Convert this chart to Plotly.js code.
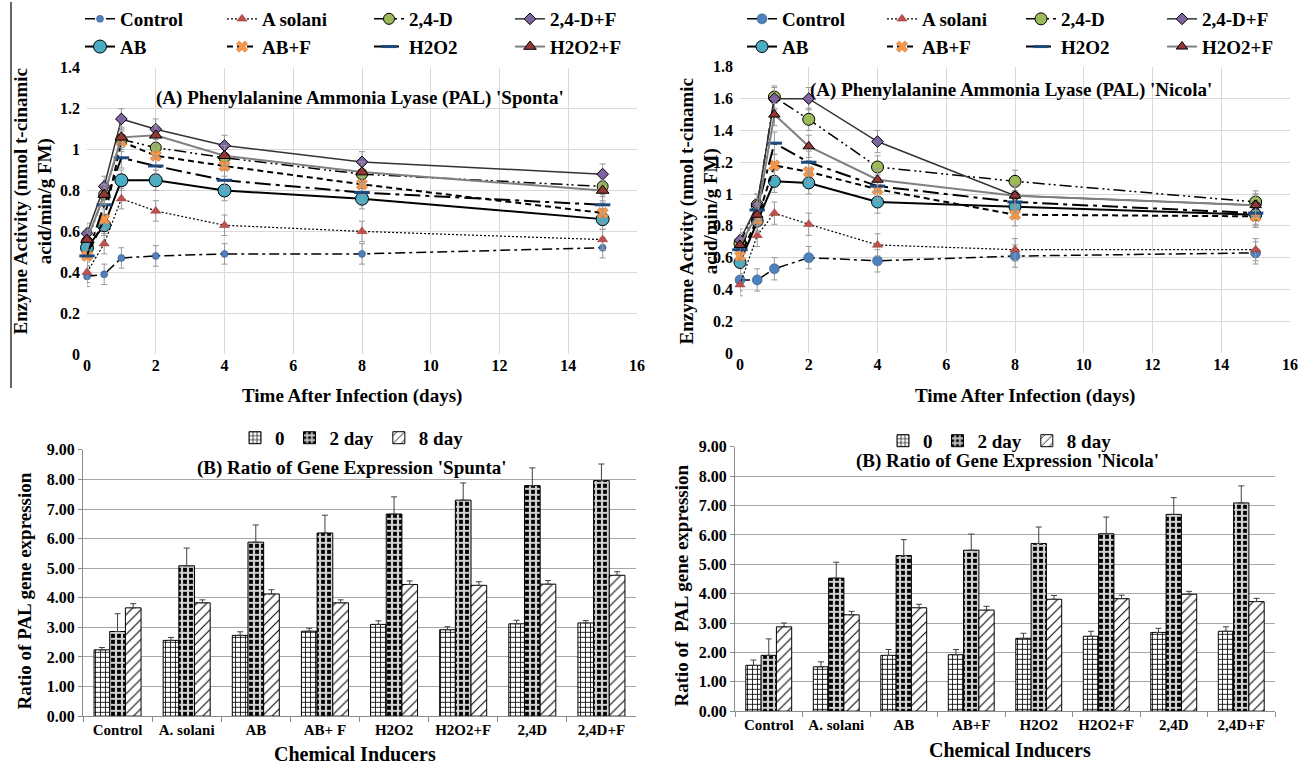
<!DOCTYPE html>
<html><head><meta charset="utf-8">
<script src="https://cdn.plot.ly/plotly-3.0.1.min.js"></script>
<style>html,body{margin:0;padding:0;background:#fff}#chart{width:1299px;height:765px}</style>
</head><body><div id="chart"></div>
<script>
// ---------- DATA ----------
const days = [0, 0.5, 1, 2, 4, 8, 15];
const seriesNames = ["Control", "A solani", "2,4-D", "2,4-D+F", "AB", "AB+F", "H2O2", "H2O2+F"];

// PAL activity, 'Sponta'
const spontaControl = [0.38, 0.39, 0.47, 0.48, 0.49, 0.49, 0.52];
const spontaAsolani = [0.40, 0.54, 0.76, 0.70, 0.63, 0.60, 0.56];
const sponta24D     = [0.55, 0.78, 1.05, 1.01, 0.96, 0.88, 0.82];
const sponta24DF    = [0.59, 0.82, 1.15, 1.10, 1.02, 0.94, 0.88];
const spontaAB      = [0.52, 0.63, 0.85, 0.85, 0.80, 0.76, 0.66];
const spontaABF     = [0.48, 0.66, 1.04, 0.97, 0.92, 0.83, 0.69];
const spontaH2O2    = [0.48, 0.73, 0.96, 0.92, 0.85, 0.79, 0.73];
const spontaH2O2F   = [0.56, 0.78, 1.06, 1.07, 0.97, 0.89, 0.80];
const spontaErr = 0.05;

// PAL activity, 'Nicola'
const nicolaControl = [0.46, 0.46, 0.53, 0.60, 0.58, 0.61, 0.63];
const nicolaAsolani = [0.43, 0.74, 0.88, 0.81, 0.68, 0.65, 0.65];
const nicola24D     = [0.69, 0.93, 1.61, 1.47, 1.17, 1.08, 0.95];
const nicola24DF    = [0.71, 0.93, 1.60, 1.60, 1.33, 0.99, 0.93];
const nicolaAB      = [0.57, 0.83, 1.08, 1.07, 0.95, 0.92, 0.87];
const nicolaABF     = [0.61, 0.84, 1.18, 1.14, 1.03, 0.87, 0.86];
const nicolaH2O2    = [0.65, 0.90, 1.32, 1.20, 1.05, 0.95, 0.88];
const nicolaH2O2F   = [0.68, 0.87, 1.50, 1.30, 1.09, 0.99, 0.93];
const nicolaErr = 0.07;

// Gene expression ratio
const barGroups = ["0", "2 day", "8 day"];
const spuntaCats = ["Control", "A. solani", "AB", "AB+ F", "H2O2", "H2O2+F", "2,4D", "2,4D+F"];
const spunta0   = [2.24, 2.56, 2.73, 2.87, 3.10, 2.92, 3.12, 3.15];
const spunta2   = [2.86, 5.08, 5.88, 6.19, 6.83, 7.30, 7.79, 7.96];
const spunta8   = [3.66, 3.83, 4.13, 3.83, 4.45, 4.42, 4.46, 4.76];
const spunta0Err = [0.08, 0.10, 0.12, 0.10, 0.12, 0.10, 0.12, 0.08];
const spunta2Err = [0.60, 0.60, 0.58, 0.60, 0.58, 0.58, 0.60, 0.56];
const spunta8Err = [0.14, 0.10, 0.14, 0.10, 0.12, 0.12, 0.12, 0.12];

const nicolaCats = ["Control", "A. solani", "AB", "AB+F", "H2O2", "H2O2+F", "2,4D", "2,4D+F"];
const nicolaB0   = [1.56, 1.51, 1.90, 1.92, 2.48, 2.55, 2.68, 2.72];
const nicolaB2   = [1.90, 4.53, 5.30, 5.48, 5.71, 6.04, 6.70, 7.09];
const nicolaB8   = [2.87, 3.28, 3.52, 3.44, 3.81, 3.83, 3.98, 3.73];
const nicolaB0Err = [0.18, 0.17, 0.20, 0.18, 0.17, 0.17, 0.14, 0.15];
const nicolaB2Err = [0.56, 0.54, 0.54, 0.55, 0.56, 0.57, 0.57, 0.58];
const nicolaB8Err = [0.13, 0.12, 0.12, 0.13, 0.13, 0.12, 0.10, 0.11];

// ---------- STYLES ----------
const W = 1299, H = 765;
const px = v => v / W;
const py = v => 1 - v / H;
const FONT = "Liberation Serif";

const styles = {
  "Control":  {line:{color:'#000', width:1.5, dash:'10px,4px,3px,4px'}, marker:{symbol:'circle', color:'#4f81bd', line:{color:'#2c4d75', width:0.5}}, sizeS:7, sizeN:10},
  "A solani": {line:{color:'#000', width:1.2, dash:'2px,2px'}, marker:{symbol:'triangle-up', color:'#c0504d', line:{color:'#8c3836', width:0.5}}, sizeS:9, sizeN:9},
  "2,4-D":    {line:{color:'#000', width:1.5, dash:'12px,4px,2px,3px,2px,4px'}, marker:{symbol:'circle', color:'#9bbb59', line:{color:'#000', width:1}}, sizeS:11, sizeN:12},
  "2,4-D+F":  {line:{color:'#333', width:1.5}, marker:{symbol:'diamond', color:'#8064a2', line:{color:'#000', width:1}}, sizeS:9, sizeN:9},
  "AB":       {line:{color:'#000', width:2}, marker:{symbol:'circle', color:'#4bacc6', line:{color:'#000', width:1}}, sizeS:13, sizeN:12},
  "AB+F":     {line:{color:'#000', width:2, dash:'6px,4px'}, marker:{symbol:'x', color:'#f79646', line:{color:'#b66d31', width:0.5}}, sizeS:10, sizeN:10},
  "H2O2":     {line:{color:'#000', width:2, dash:'16px,5px,4px,5px'}, marker:{symbol:'line-ew', color:'#1f497d', line:{color:'#1f497d', width:3}}, sizeS:11, sizeN:11},
  "H2O2+F":   {line:{color:'#808080', width:2}, marker:{symbol:'triangle-up', color:'#953735', line:{color:'#000', width:1}}, sizeS:11, sizeN:10}
};
// legend column for each series (row-major 2x4)
const legendCol = {"Control":0, "AB":0, "A solani":1, "AB+F":1, "2,4-D":2, "H2O2":2, "2,4-D+F":3, "H2O2+F":3};

const spontaSeries = {"Control":spontaControl, "A solani":spontaAsolani, "2,4-D":sponta24D, "2,4-D+F":sponta24DF,
  "AB":spontaAB, "AB+F":spontaABF, "H2O2":spontaH2O2, "H2O2+F":spontaH2O2F};
const nicolaSeries = {"Control":nicolaControl, "A solani":nicolaAsolani, "2,4-D":nicola24D, "2,4-D+F":nicola24DF,
  "AB":nicolaAB, "AB+F":nicolaABF, "H2O2":nicolaH2O2, "H2O2+F":nicolaH2O2F};

const traces = [];
function addLines(seriesMap, err, xa, ya, legendBase, sizeKey) {
  seriesNames.forEach(name => {
    const st = styles[name];
    const col = legendCol[name];
    const lg = (legendBase + col) === 1 ? 'legend' : 'legend' + (legendBase + col);
    traces.push({
      type:'scatter', mode:'lines+markers', name:name, x:days, y:seriesMap[name],
      xaxis:xa, yaxis:ya, legend:lg,
      line:st.line,
      marker:Object.assign({}, st.marker, {size:st[sizeKey]}),
      error_y:{type:'constant', value:err, color:'#9a9a9a', thickness:1, width:3},
      cliponaxis:false
    });
  });
}
addLines(spontaSeries, spontaErr, 'x', 'y', 1, 'sizeS');
addLines(nicolaSeries, nicolaErr, 'x2', 'y2', 5, 'sizeN');

const patterns = [
  {shape:'+', fgcolor:'#000', bgcolor:'#fff', size:5, solidity:0.3},
  {shape:'+', fgcolor:'#d0d0d0', bgcolor:'#000', size:6, solidity:0.6},
  {shape:'/', fgcolor:'#000', bgcolor:'#fff', size:7, solidity:0.15}
];
function addBars(cats, vals, errs, xa, ya, lg) {
  vals.forEach((v, i) => {
    traces.push({
      type:'bar', name:barGroups[i], x:cats, y:v, xaxis:xa, yaxis:ya, legend:lg,
      marker:{color:'#fff', line:{color:'#000', width:1}, pattern:patterns[i]},
      error_y:{type:'data', array:errs[i], arrayminus:errs[i].map(() => 0), symmetric:false, color:'#404040', thickness:1, width:3}
    });
  });
}
addBars(spuntaCats, [spunta0, spunta2, spunta8], [spunta0Err, spunta2Err, spunta8Err], 'x3', 'y3', 'legend9');
addBars(nicolaCats, [nicolaB0, nicolaB2, nicolaB8], [nicolaB0Err, nicolaB2Err, nicolaB8Err], 'x4', 'y4', 'legend10');

// ---------- LAYOUT ----------
const tickF = {family:FONT, size:16, color:'#000', weight:'bold'};
function lineX(dom, anchor) {
  return {domain:dom, anchor:anchor, range:[0,16], dtick:2, tick0:0, showgrid:true, gridcolor:'#d9d9d9',
    zeroline:false, showline:false, ticks:'', tickfont:tickF, fixedrange:true};
}
function lineY(dom, anchor, max) {
  return {domain:dom, anchor:anchor, range:[0,max], dtick:0.2, tick0:0, showgrid:true, gridcolor:'#d9d9d9',
    zeroline:false, showline:false, ticks:'', tickfont:tickF, ticklabelstandoff:6};
}
function barX(dom, anchor) {
  return {domain:dom, anchor:anchor, type:'category', showline:true, linecolor:'#8c8c8c', ticks:'outside',
    tickson:'boundaries', ticklen:5, tickcolor:'#8c8c8c', showgrid:false, tickfont:{family:FONT, size:15, color:'#000', weight:'bold'}};
}
function barY(dom, anchor) {
  return {domain:dom, anchor:anchor, range:[0,9], dtick:1, tick0:0, tickformat:'.2f', showline:true, linecolor:'#8c8c8c',
    ticks:'outside', ticklen:4, tickcolor:'#8c8c8c', showgrid:true, gridcolor:'#a6a6a6', zeroline:false,
    tickfont:{family:FONT, size:16, color:'#000', weight:'bold'}};
}

const legFont = {family:FONT, size:19, color:'#000', weight:'bold'};
function colLegend(xpx) {
  return {x:px(xpx), y:py(-2), xanchor:'left', yanchor:'top', orientation:'v', bgcolor:'rgba(0,0,0,0)',
    borderwidth:0, font:legFont, itemwidth:30, tracegroupgap:0, traceorder:'normal'};
}
function barLegend(xc, yc) {
  return {x:px(xc), y:py(yc), xanchor:'center', yanchor:'middle', orientation:'h', bgcolor:'rgba(0,0,0,0)',
    borderwidth:0, font:{family:FONT, size:19, color:'#000', weight:'bold'}, itemwidth:30, traceorder:'normal'};
}

const annF = (s) => ({family:FONT, size:s, color:'#000', weight:'bold'});
const ann = (text, x, y, size, angle) => ({text:text, xref:'paper', yref:'paper', x:px(x), y:py(y),
  xanchor:'center', yanchor:'middle', showarrow:false, font:annF(size), textangle:angle || 0});

const layout = {
  width:W, height:H, margin:{l:0, r:0, t:0, b:0}, paper_bgcolor:'#fff', plot_bgcolor:'#fff',
  font:{family:FONT, color:'#000', weight:'bold'},
  barmode:'group', bargap:0.32, bargroupgap:0,
  xaxis: lineX([px(87), px(637)], 'y'),
  yaxis: lineY([py(353), py(66)], 'x', 1.4),
  xaxis2: lineX([px(740), px(1290)], 'y2'),
  yaxis2: lineY([py(352), py(65)], 'x2', 1.8),
  xaxis3: barX([px(83), px(636)], 'y3'),
  yaxis3: barY([py(716), py(449)], 'x3'),
  xaxis4: barX([px(735), px(1275)], 'y4'),
  yaxis4: barY([py(711), py(446)], 'x4'),
  legend: colLegend(80), legend2: colLegend(222), legend3: colLegend(369), legend4: colLegend(510),
  legend5: colLegend(742), legend6: colLegend(882), legend7: colLegend(1021), legend8: colLegend(1162),
  legend9: barLegend(352, 437),
  legend10: barLegend(1000, 440),
  annotations: [
    ann("(A) Phenylalanine Ammonia Lyase (PAL) 'Sponta'", 360, 96, 19),
    ann("(A) Phenylalanine Ammonia Lyase (PAL) 'Nicola'", 1011, 88, 19),
    ann("Time After Infection (days)", 352, 395, 19),
    ann("Time After Infection (days)", 1025, 395, 19),
    ann("Enzyme Activity (nmol t-cinamic<br>acid/min/g FM)", 33, 200, 19, -90),
    ann("Enzyme Activity (nmol t-cinamic<br>acid/min/g FM)", 699, 210, 19, -90),
    ann("(B) Ratio of Gene Expression 'Spunta'", 352, 467, 19),
    ann("(B) Ratio of Gene Expression 'Nicola'", 1007, 460, 19),
    ann("Ratio of PAL gene expression", 24, 591, 19, -90),
    ann("Ratio of  PAL gene expression", 681, 585, 19, -90),
    ann("Chemical Inducers", 355, 754, 20),
    ann("Chemical Inducers", 1010, 750, 20)
  ],
  shapes: [
    {type:'line', xref:'paper', yref:'paper', x0:px(11), x1:px(11), y0:py(0), y1:py(387), line:{color:'#000', width:1.2}}
  ],
  showlegend:true
};

Plotly.newPlot('chart', traces, layout, {staticPlot:true, displayModeBar:false});
</script>
</body></html>
